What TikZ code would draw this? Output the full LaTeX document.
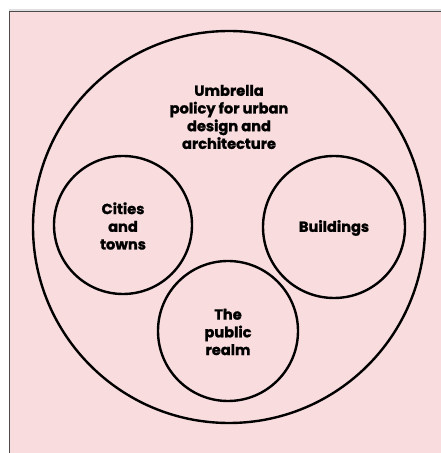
\documentclass[tikz,border=0pt]{standalone}
\usepackage{fontspec}
\setmainfont{Poppins}[BoldFeatures={FakeBold=1.3}]
\definecolor{bgpink}{RGB}{249,220,221}
\begin{document}
\begin{tikzpicture}[x=1pt,y=1pt,
  ring/.style={draw=black,line width=2.4pt,circle},
  lbl/.style={align=center,font=\fontsize{14.6}{17.7}\selectfont\bfseries,text=black,inner sep=0pt}]
\useasboundingbox (0,0) rectangle (441,453);
\fill[white] (0,0) rectangle (441,453);
\fill[black!12] (9,441.5) rectangle (441,444);
\fill[bgpink] (9.5,0) rectangle (441,441.5);
\draw[black!70,line width=0.8pt] (9.5,0) -- (9.5,441.5) -- (441,441.5);
\node[ring,minimum size=392pt] (outer) at (229,226) {};
\node[ring,minimum size=138pt] (cities) at (123,228) {};
\node[ring,minimum size=142pt] (build) at (334,226) {};
\node[ring,minimum size=140pt] (realm) at (228,122) {};
\node[lbl] (tumb) at (229,336) {Umbrella\\policy for urban\\design and\\architecture};
\node[lbl] (tcit) at (123,227) {Cities\\and\\towns};
\node[lbl] (tbld) at (334,225) {Buildings};
\node[lbl] (trlm) at (228,121) {The\\public\\realm};
\end{tikzpicture}
\end{document}
